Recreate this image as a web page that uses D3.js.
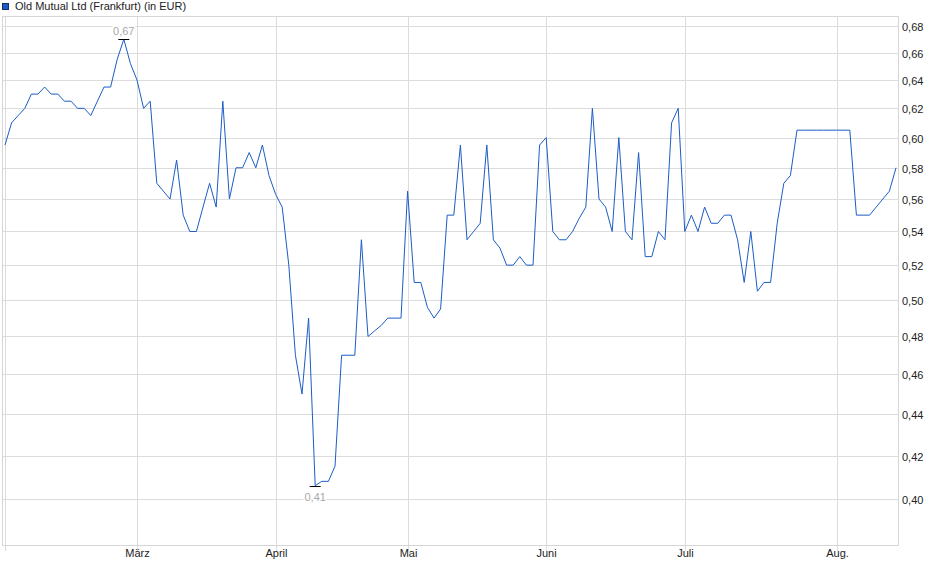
<!DOCTYPE html>
<html>
<head>
<meta charset="utf-8">
<script src="https://cdn.jsdelivr.net/npm/d3@7"></script>
<style>
  body { margin: 0; background: #fff; }
  svg { display: block; font-family: "Liberation Sans", Arial, sans-serif; }
  .grid line { stroke: #dcdcdc; stroke-width: 1; shape-rendering: crispEdges; }
  .frame { fill: none; stroke: #d6d6d6; shape-rendering: crispEdges; }
  .tick-label { font-size: 11px; fill: #222; }
</style>
</head>
<body>
<div id="chart"></div>
<script>
/* Series title shown in the legend. */
const seriesName = "Old Mutual Ltd (Frankfurt) (in EUR)";

/* Closing prices, one per trading day (mid Feb to mid Aug). */
const prices = [
  0.595, 0.61, 0.615, 0.62, 0.63, 0.63, 0.635, 0.63, 0.63, 0.625,
  0.625, 0.62, 0.62, 0.615, 0.625, 0.635, 0.635, 0.655, 0.67, 0.652,
  0.64, 0.62, 0.625, 0.57, 0.565, 0.56, 0.585, 0.55, 0.54, 0.54,
  0.555, 0.57, 0.555, 0.625, 0.56, 0.58, 0.58, 0.59, 0.58, 0.595,
  0.575, 0.563, 0.555, 0.52, 0.47, 0.45, 0.49, 0.406, 0.408, 0.408,
  0.415, 0.47, 0.47, 0.47, 0.535, 0.48, 0.483, 0.486, 0.49, 0.49,
  0.49, 0.565, 0.51, 0.51, 0.496, 0.49, 0.495, 0.55, 0.55, 0.595,
  0.535, 0.54, 0.545, 0.595, 0.535, 0.53, 0.52, 0.52, 0.525, 0.52,
  0.52, 0.595, 0.60, 0.54, 0.535, 0.535, 0.54, 0.548, 0.555, 0.62,
  0.56, 0.555, 0.54, 0.60, 0.54, 0.535, 0.59, 0.525, 0.525, 0.54,
  0.535, 0.61, 0.62, 0.54, 0.55, 0.54, 0.555, 0.545, 0.545, 0.55,
  0.55, 0.535, 0.51, 0.54, 0.505, 0.51, 0.51, 0.545, 0.57, 0.575,
  0.605, 0.605, 0.605, 0.605, 0.605, 0.605, 0.605, 0.605, 0.605, 0.55,
  0.55, 0.55, 0.555, 0.56, 0.565, 0.58
];

/* Month labels and the index of the first trading day of each month. */
const monthLabels = ["März", "April", "Mai", "Juni", "Juli", "Aug."];
const monthStarts = [20, 41, 61, 82, 103, 126];

/* Price axis tick values. */
const priceTicks = [0.40, 0.42, 0.44, 0.46, 0.48, 0.50, 0.52, 0.54,
  0.56, 0.58, 0.60, 0.62, 0.64, 0.66, 0.68];

const chartParams = {
  width: 940,
  height: 579,
  left: 2.5,
  right: 898.5,
  top: 16.5,
  bottom: 545.5,
  lineColor: "#1c5cc5"
};

/* German number format: 0,68 */
const de = d3.formatLocale({ decimal: ",", thousands: ".", grouping: [3], currency: ["", " €"] });
const fmt = de.format(".2f");

const x = d3.scaleLinear()
  .domain([0, prices.length - 1])
  .range([5, 896]);

/* Price axis is logarithmic. */
const y = d3.scaleLog()
  .domain([0.40, 0.68])
  .range([499, 26]);

const svg = d3.select("#chart")
  .append("svg")
  .attr("width", chartParams.width)
  .attr("height", chartParams.height);

/* Horizontal grid lines and labels. */
const yGrid = svg.append("g").attr("class", "grid");
priceTicks.forEach(v => {
  const yy = Math.round(y(v)) + 0.5;
  yGrid.append("line")
    .attr("x1", chartParams.left).attr("x2", chartParams.right)
    .attr("y1", yy).attr("y2", yy);
  svg.append("text")
    .attr("class", "tick-label")
    .attr("x", 902)
    .attr("y", yy + 4)
    .text(fmt(v));
});

/* Vertical grid lines at month starts, plus one at the first point. */
const xGrid = svg.append("g").attr("class", "grid");
[0].concat(monthStarts).forEach(i => {
  const xx = Math.round(x(i)) + 0.5;
  xGrid.append("line")
    .attr("x1", xx).attr("x2", xx)
    .attr("y1", chartParams.top).attr("y2", chartParams.bottom + 5);
});
monthStarts.forEach((i, k) => {
  svg.append("text")
    .attr("class", "tick-label")
    .attr("x", Math.round(x(i)) + 0.5)
    .attr("y", 557)
    .attr("text-anchor", "middle")
    .text(monthLabels[k]);
});

/* Plot frame. */
svg.append("rect")
  .attr("class", "frame")
  .attr("x", chartParams.left)
  .attr("y", chartParams.top)
  .attr("width", chartParams.right - chartParams.left)
  .attr("height", chartParams.bottom - chartParams.top);

/* Price line. */
const line = d3.line()
  .x((d, i) => x(i))
  .y(d => y(d));

svg.append("path")
  .datum(prices)
  .attr("fill", "none")
  .attr("stroke", chartParams.lineColor)
  .attr("stroke-width", 1)
  .attr("d", line);

/* High and low markers with their labels. */
const maxIdx = d3.maxIndex(prices);
const minIdx = d3.minIndex(prices);
[[maxIdx, -1], [minIdx, 1]].forEach(([i, dir]) => {
  const px = x(i);
  const py = Math.round(y(prices[i])) + 0.5;
  const labelY = dir < 0 ? py - 5 : py + 14;
  const label = svg.append("text")
    .attr("x", px)
    .attr("y", labelY)
    .attr("text-anchor", "middle")
    .attr("font-size", "11px")
    .attr("fill", "#a9a9a9")
    .text(fmt(prices[i]));
  const bb = label.node().getBBox();
  svg.insert("rect", "text:last-of-type")
    .attr("x", bb.x - 1).attr("y", bb.y)
    .attr("width", bb.width + 2).attr("height", bb.height)
    .attr("fill", "#fff")
    .attr("opacity", 0.85);
  label.raise();
  svg.append("line")
    .attr("x1", px - 5.5).attr("x2", px + 5.5)
    .attr("y1", py).attr("y2", py)
    .attr("stroke", "#000")
    .attr("stroke-width", 1);
});

/* Legend. */
svg.append("rect")
  .attr("x", 2.5).attr("y", 3.5)
  .attr("width", 6).attr("height", 6)
  .attr("fill", chartParams.lineColor)
  .attr("stroke", "#1a2d66");
svg.append("text")
  .attr("x", 15)
  .attr("y", 10)
  .attr("font-size", "11px")
  .attr("fill", "#222")
  .text(seriesName);
</script>
</body>
</html>
